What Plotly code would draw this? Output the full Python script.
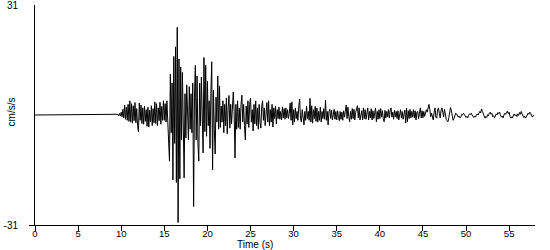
import numpy as np
import plotly.graph_objects as go

# --- data ---
record_start_time = 0.0      # trace is flat from the start of the record
onset_time = 9.5             # first sample of the listed segment (s)
sample_step = 0.1            # s between listed samples

accel = [
    0.0, 0.2, -0.2, 0.4, -0.3,
    0.8, -0.5, 1.6, -0.8, 2.8, -1.2, 2.2, -1.5, 3.0, -1.8,
    4.0, -2.0, 3.2, -2.3, 2.6, -1.6, 3.5, -2.2, 1.8, -3.0,
    -4.7, 3.4, -1.5, 2.8, -2.4, 2.0, -2.6, 2.5, -1.8, 1.5,
    -3.2, 2.2, -3.4, 1.4, -2.0, 2.6, -3.0, 1.8, -2.2, 3.7,
    -2.4, 3.2, -3.0, 2.0, -1.6, 3.6, -2.6, 2.4, -1.5, 4.0,
    -1.5, 3.2, -2.0, 4.0, -1.8, -6.0, -13.0, 11.5, -5.0, 9.0,
    -18.3, 16.5, -8.0, 19.2, -19.0, 24.7, -30.3, 15.8, -18.0, 13.5,
    -7.0, 12.0, -4.0, -17.7, 6.0, -6.5, 8.5, -3.0, -7.0, 8.0,
    -4.0, 6.0, -5.0, 9.0, -25.8, 5.0, 14.0, -7.0, 11.0, -8.0,
    -13.0, 9.0, -3.0, 10.7, -5.5, -10.7, 16.2, -4.7, 14.0, -6.0,
    9.5, -3.0, 4.0, -9.4, 6.0, 15.0, -15.5, 7.0, -4.0, -11.0,
    5.0, -2.0, 11.0, -4.0, 8.2, -3.5, 2.5, -2.0, 4.0, -5.0,
    3.0, -3.0, 4.8, -5.3, 2.0, 5.5, -3.7, 3.0, -2.5, 5.0,
    6.5, 1.0, -12.1, 3.0, -4.0, 4.0, -3.5, 2.0, -4.0, 3.0,
    5.6, -2.0, 3.0, -3.0, -7.0, 2.5, -2.5, 4.0, -3.5, 3.0,
    4.8, -2.0, 1.5, -4.5, 3.0, -2.5, 4.0, -3.0, 2.0, -4.0,
    3.0, -2.0, -3.7, 2.5, 4.0, -1.5, 2.0, -3.0, 1.0, 3.5,
    -2.0, 4.0, -3.0, 1.5, -2.0, 3.0, -3.4, 2.0, -1.0, 2.5,
    -2.5, 1.5, -1.0, 2.2, -1.2, 1.0, -1.4, 2.3, -0.8, 1.8,
    -1.2, 2.0, -0.8, 1.5, -1.0, 0.5, 3.4, -1.5, 3.7, -2.8,
    1.5, -2.0, 2.0, -1.0, 1.0, -1.5, 2.5, 4.5, -1.0, -2.0,
    1.5, -1.0, -2.8, 1.0, -1.5, 2.5, -1.0, 1.0, -1.5, 4.7,
    -2.0, 2.6, -2.3, 1.5, -1.0, 2.4, -1.8, 2.0, -2.0, 1.0,
    -1.5, 2.2, -2.0, 1.0, -1.0, 1.8, -1.2, 4.2, -1.5, 1.0,
    -2.8, 1.0, 1.6, -1.0, 1.4, -1.4, 0.8, 1.6, -1.2, 1.0,
    -1.4, 1.2, -0.5, -1.6, 1.0, -1.2, 0.8, -1.5, 1.2, -0.6,
    1.0, 2.8, -1.0, 2.2, -0.5, -1.9, 1.0, -1.2, 1.8, -1.0,
    1.6, -1.4, 0.8, 1.8, 2.6, -0.8, 2.0, -1.4, -0.5, 1.2,
    -1.4, 2.0, -1.0, 1.5, -1.2, 0.8, 2.0, -1.4, 1.0, -0.8,
    1.8, -1.4, 1.2, -1.0, 0.5, 2.0, -1.9, 1.0, -1.2, 1.5,
    -1.0, 1.8, -0.6, 1.2, -1.0, -1.9, 1.3, -0.8, 1.0, -0.5,
    1.5, -0.8, 1.2, 2.0, -0.6, 0.8, -1.2, 1.3, -0.5, 1.0,
    -1.0, 1.2, -1.4, 0.8, 1.5, -0.8, 1.0, -1.2, 0.6, 1.4,
    -2.3, 1.9, -1.9, 1.2, -1.0, 1.6, -0.8, 1.0, -0.6, 1.5,
    -0.8, 1.2, -1.4, 0.8, 1.0, -1.0, 0.5, 2.0, -0.8, 1.2,
    -0.8, 1.0, -0.4, 0.6, 1.5, 0.8, 2.2, 3.0, 1.5, -0.5,
    0.5, -0.8, -1.4, 0.8, 2.0, -0.6, -0.9, 1.5, 2.0, 0.5,
    -0.8, 1.2, 2.0, 0.8, -0.6, 1.6, -0.5, -1.2, -1.6, -1.9,
    -0.8, 0.8, 2.1, 1.2, -0.6, -1.5, -1.0, 0.2, 0.5, 0.3,
    -0.2, -0.6, -0.3, -0.8, -0.5, 0.2, 0.0, 0.5, 0.2, -0.3,
    -0.7, -0.4, -0.8, -0.1, 0.3, 0.1, 0.5, 0.0, -0.4, -0.7,
    -0.3, -0.6, 0.1, 0.3, 0.0, 0.5, 1.0, 0.6, 1.7, 1.0,
    0.2, -0.5, -0.9, -0.4, -0.7, 0.1, -0.2, 0.5, 0.8, 0.2,
    0.5, -0.5, -0.2, -0.8, -0.4, 0.3, 0.0, 0.7, 0.4, 0.8,
    -0.1, -0.6, -0.3, -0.8, 0.0, 0.5, 0.2, 0.9, 1.1, 0.4,
    0.8, -0.4, -0.9, -0.5, -0.8, 0.0, 0.3, -0.2, 0.1, -0.4,
    0.3, -0.1, 0.7, 0.2, 1.0, 0.3, -0.2, -0.7, -0.3, -0.9,
    -0.5, 0.0, 0.5, 0.2, 0.8, 0.4, -0.3, -0.6, -0.1, 0.0,
]

x_ticks = [0, 5, 10, 15, 20, 25, 30, 35, 40, 45, 50, 55]
y_ticks = [-31, 31]
y_tick_text = ["-31", "31"]
y_bottom_tick = [-31]
x_title = "Time (s)"
y_title = "cm/s/s"

# --- build series ---
times = [record_start_time] + list(np.round(onset_time + sample_step * np.arange(len(accel)), 3))
values = [0.0] + accel

FONT = "Liberation Sans, Arial, sans-serif"

fig = go.Figure()
fig.add_trace(go.Scatter(x=times, y=values, mode="lines",
                         line=dict(color="black", width=1), hoverinfo="skip",
                         showlegend=False))
fig.add_trace(go.Scatter(x=[], y=[], yaxis="y2", showlegend=False))

fig.update_layout(
    width=550, height=250,
    margin=dict(l=35, r=15, t=5, b=25),
    paper_bgcolor="white", plot_bgcolor="white",
    font=dict(family=FONT, size=10, color="black"),
    xaxis=dict(range=[0, 58], tickmode="array", tickvals=x_ticks,
               ticks="outside", ticklen=5, tickwidth=1, tickcolor="black",
               showline=True, linecolor="black", linewidth=1,
               showgrid=False, zeroline=False, ticklabelstandoff=-5,
               ticklabeloverflow="allow", automargin=False,
               tickfont=dict(family=FONT, size=9.5, color="black")),
    yaxis=dict(range=[-31, 31], tickmode="array", tickvals=y_ticks,
               ticktext=y_tick_text,
               ticks="", showline=True, linecolor="black", linewidth=1,
               showgrid=False, zeroline=False, ticklabelstandoff=14,
               ticklabeloverflow="allow", automargin=False,
               tickfont=dict(family=FONT, size=10, color="black")),
    yaxis2=dict(range=[-31, 31], overlaying="y", side="left", anchor="x",
                tickmode="array", tickvals=y_bottom_tick, ticks="outside",
                ticklen=5, tickwidth=1, tickcolor="black", automargin=False,
                showticklabels=False, showline=False, showgrid=False,
                zeroline=False),
    annotations=[
        dict(text=x_title, xref="paper", yref="paper", x=0.44, y=-0.0886,
             xanchor="center", yanchor="middle", showarrow=False,
             font=dict(family=FONT, size=10, color="black")),
        dict(text=y_title, xref="paper", yref="paper", x=-0.047, y=0.514,
             xanchor="center", yanchor="middle", textangle=-90, showarrow=False,
             font=dict(family=FONT, size=10, color="black")),
    ],
)

fig.write_html("out.html")
